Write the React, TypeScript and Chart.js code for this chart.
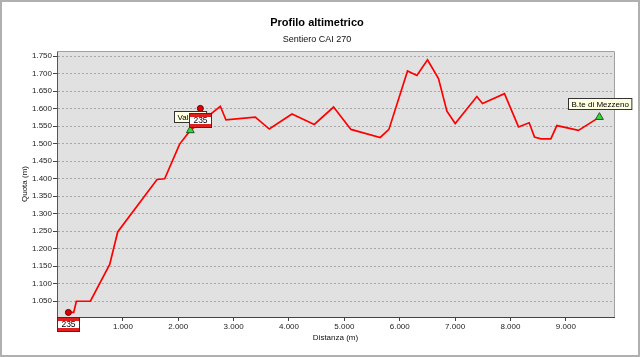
import React, { useEffect, useRef } from 'react';
import { Chart, registerables } from 'chart.js';

Chart.register(...registerables);

// Profile data (distance in m, elevation in m)
const distances = [16, 112, 160, 413, 762, 906, 1617, 1755, 2025, 2218, 2760, 2862, 3392, 3644, 4054, 4457, 4805, 5119, 5648, 5805, 6141, 6310, 6502, 6700, 6852, 7002, 7393, 7495, 7892, 8145, 8338, 8434, 8549, 8729, 8838, 9228, 9607];
const elevations = [1018, 1018, 1050, 1050, 1155, 1248, 1398, 1400, 1499, 1538, 1607, 1568, 1576, 1542, 1585, 1555, 1605, 1541, 1518, 1541, 1708, 1695, 1740, 1686, 1593, 1558, 1635, 1615, 1643, 1548, 1560, 1519, 1514, 1514, 1552, 1538, 1576];

// Trail signs (red circles with CAI sign)
const signDist = [16, 2399];
const signElev = [1018, 1601];
const signNumbers = ['235', '235'];

// Named places (green triangles with label)
const placeDist = [2218, 9607];
const placeElev = [1538, 1576];
const placeNames = ['Valletta', 'B.te di Mezzeno'];

// Axis ticks
const yTicks = [1050, 1100, 1150, 1200, 1250, 1300, 1350, 1400, 1450, 1500, 1550, 1600, 1650, 1700, 1750];
const xTicks = [1000, 2000, 3000, 4000, 5000, 6000, 7000, 8000, 9000];

const FAMILY = '"Liberation Sans", Arial, sans-serif';

const fmt = (v: number) => String(Math.round(v)).replace(/\B(?=(\d{3})+(?!\d))/g, '.');

const overlayPlugin = {
  id: 'overlay',
  beforeDraw(chart: any) {
    const { ctx, chartArea: a, width, height } = chart;
    ctx.save();
    ctx.fillStyle = '#ffffff';
    ctx.fillRect(0, 0, width, height);
    ctx.fillStyle = '#e1e1e1';
    ctx.fillRect(a.left, a.top, a.right - a.left, a.bottom - a.top);
    ctx.restore();
  },
  afterDraw(chart: any) {
    const { ctx, chartArea: a, width, height } = chart;
    const xs = chart.scales.x;
    const ys = chart.scales.y;
    ctx.save();
    // plot frame top/right
    ctx.strokeStyle = '#a0a0a0';
    ctx.lineWidth = 1;
    ctx.beginPath();
    ctx.moveTo(a.left, a.top + 0.5);
    ctx.lineTo(a.right + 0.5, a.top + 0.5);
    ctx.lineTo(a.right + 0.5, a.bottom);
    ctx.stroke();
    // outer frame
    ctx.strokeStyle = '#b0b0b0';
    ctx.lineWidth = 2;
    ctx.strokeRect(1, 1, width - 2, height - 2);

    // place labels
    ctx.font = `8px ${FAMILY}`;
    ctx.textBaseline = 'middle';
    ctx.textAlign = 'center';
    placeNames.forEach((name, i) => {
      const px = xs.getPixelForValue(placeDist[i]);
      const py = ys.getPixelForValue(placeElev[i]);
      const w = ctx.measureText(name).width + 6;
      const h = 11;
      const bx = Math.round(px - w / 2) + 0.5;
      const by = Math.round(py - 8.5 - h) + 0.5;
      ctx.fillStyle = '#ffffe1';
      ctx.fillRect(bx, by, w, h);
      ctx.strokeStyle = '#333333';
      ctx.lineWidth = 1;
      ctx.strokeRect(bx, by, w, h);
      ctx.fillStyle = '#000000';
      ctx.fillText(name, bx + w / 2, by + h / 2 + 0.5);
    });

    // CAI signs
    signNumbers.forEach((num, i) => {
      const px = xs.getPixelForValue(signDist[i]);
      const py = ys.getPixelForValue(signElev[i]);
      const w = 23;
      const h = 15;
      const bx = Math.round(px - w / 2);
      const by = Math.round(py + 5);
      ctx.fillStyle = '#333333';
      ctx.fillRect(bx, by, w, h);
      ctx.fillStyle = '#e02020';
      ctx.fillRect(bx + 1, by + 1, w - 2, h - 2);
      ctx.fillStyle = '#ffffff';
      ctx.fillRect(bx + 1, by + 4, w - 2, h - 8);
      ctx.fillStyle = '#000000';
      ctx.font = `8.5px ${FAMILY}`;
      ctx.fillText(num, bx + w / 2, by + h / 2 + 0.5);
    });
    ctx.restore();
  },
};

export default function App() {
  const ref = useRef<HTMLCanvasElement | null>(null);

  useEffect(() => {
    if (!ref.current) return;
    const font8 = { family: FAMILY, size: 8 };
    const chart = new Chart(ref.current, {
      type: 'line',
      data: {
        datasets: [
          {
            label: 'Profilo',
            data: distances.map((d, i) => ({ x: d, y: elevations[i] })),
            borderColor: '#ff0000',
            borderWidth: 1.7,
            pointRadius: 0,
            fill: false,
            tension: 0,
            order: 3,
          },
          {
            label: 'Segnavia',
            data: signDist.map((d, i) => ({ x: d, y: signElev[i] })),
            showLine: false,
            pointStyle: 'circle',
            pointRadius: 3,
            pointBackgroundColor: '#e00000',
            pointBorderColor: '#600000',
            pointBorderWidth: 1,
            order: 2,
          },
          {
            label: 'Località',
            data: placeDist.map((d, i) => ({ x: d, y: placeElev[i] })),
            showLine: false,
            pointStyle: 'triangle',
            pointRadius: 4.5,
            pointBackgroundColor: '#33dd33',
            pointBorderColor: '#225522',
            pointBorderWidth: 1,
            order: 1,
          },
        ],
      },
      options: {
        responsive: false,
        animation: false,
        layout: { padding: { left: 0, right: 6, top: 0, bottom: 0 } },
        plugins: {
          legend: { display: false },
          tooltip: { enabled: false },
          title: {
            display: true,
            text: 'Profilo altimetrico',
            color: '#000000',
            font: { family: FAMILY, size: 11, weight: 'bold' },
            padding: { top: 16, bottom: 5 },
          },
          subtitle: {
            display: true,
            text: 'Sentiero CAI 270',
            color: '#111111',
            font: { family: FAMILY, size: 9 },
            padding: { top: 0, bottom: 6 },
          },
        },
        scales: {
          x: {
            type: 'linear',
            min: -190,
            max: 9870,
            afterBuildTicks: (s: any) => {
              s.ticks = xTicks.map((v) => ({ value: v }));
            },
            afterFit: (s: any) => {
              s.height = 40;
            },
            ticks: {
              callback: (v: any) => fmt(Number(v)),
              font: font8,
              color: '#222222',
              padding: 1,
              maxRotation: 0,
              autoSkip: false,
            },
            grid: { drawOnChartArea: false, drawTicks: true, tickLength: 4, tickColor: '#444444' },
            border: { display: true, color: '#444444', width: 1 },
            title: {
              display: true,
              text: 'Distanza (m)',
              color: '#111111',
              font: font8,
              padding: { top: 0, bottom: 14 },
            },
          },
          y: {
            type: 'linear',
            min: 1005,
            max: 1765,
            afterBuildTicks: (s: any) => {
              s.ticks = yTicks.map((v) => ({ value: v }));
            },
            afterFit: (s: any) => {
              s.width = 57;
            },
            ticks: {
              callback: (v: any) => fmt(Number(v)),
              font: font8,
              color: '#222222',
              padding: 1,
              autoSkip: false,
            },
            grid: { color: '#a8a8a8', lineWidth: 1, drawTicks: true, tickLength: 4, tickColor: '#444444' },
            border: { display: true, color: '#555555', width: 1, dash: [2, 2] },
            title: {
              display: true,
              text: 'Quota (m)',
              color: '#111111',
              font: font8,
              padding: { top: 20, bottom: 0 },
            },
          },
          yRight: {
            type: 'linear',
            position: 'right',
            display: true,
            min: 1005,
            max: 1765,
            afterFit: (s: any) => {
              s.width = 20;
            },
            ticks: { display: false },
            grid: { display: false, drawOnChartArea: false },
            border: { display: false },
          },
        },
      },
      plugins: [overlayPlugin],
    } as any);
    return () => chart.destroy();
  }, []);

  return (
    <div style={{ position: 'absolute', left: 0, top: 0, width: 640, height: 357 }}>
      <canvas ref={ref} width={640} height={357} style={{ display: 'block' }} />
    </div>
  );
}
